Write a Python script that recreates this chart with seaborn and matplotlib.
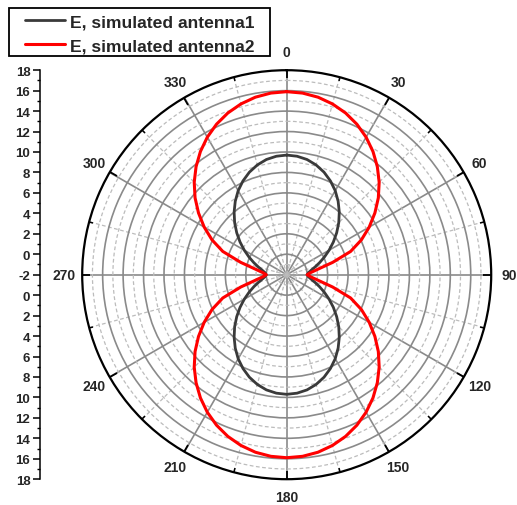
import numpy as np
import pandas as pd
import matplotlib
matplotlib.use("Agg")
import matplotlib.pyplot as plt
import matplotlib.patches as mpatches
from matplotlib.ticker import FixedLocator
import seaborn as sns

# ---------------- data ----------------
angle_deg = list(range(0, 365, 5))

antenna1 = [9.70, 9.63, 9.44, 9.11, 8.67, 8.12, 7.49, 6.77, 6.00, 5.20, 4.38, 3.57, 2.79, 2.06, 1.41, 0.85, 0.41, 0.12, 0.00,
            0.12, 0.41, 0.85, 1.41, 2.06, 2.79, 3.57, 4.38, 5.20, 6.00, 6.77, 7.49, 8.12, 8.67, 9.11, 9.44, 9.63, 9.70,
            9.63, 9.44, 9.11, 8.67, 8.12, 7.49, 6.77, 6.00, 5.20, 4.38, 3.57, 2.79, 2.06, 1.41, 0.85, 0.41, 0.12, 0.00,
            0.12, 0.41, 0.85, 1.41, 2.06, 2.79, 3.57, 4.38, 5.20, 6.00, 6.77, 7.49, 8.12, 8.67, 9.11, 9.44, 9.63, 9.70]

antenna2 = [15.90, 15.83, 15.63, 15.29, 14.83, 14.24, 13.53, 12.71, 11.79, 10.79, 9.70, 8.53, 7.32, 6.06, 4.65, 2.65, 1.10, 0.35, 0.00,
            0.35, 1.10, 2.65, 4.65, 6.06, 7.32, 8.53, 9.70, 10.79, 11.79, 12.71, 13.53, 14.24, 14.83, 15.29, 15.63, 15.83, 15.90,
            15.83, 15.63, 15.29, 14.83, 14.24, 13.53, 12.71, 11.79, 10.79, 9.70, 8.53, 7.32, 6.06, 4.65, 2.65, 1.10, 0.35, 0.00,
            0.35, 1.10, 2.65, 4.65, 6.06, 7.32, 8.53, 9.70, 10.79, 11.79, 12.71, 13.53, 14.24, 14.83, 15.29, 15.63, 15.83, 15.90]

series_names = ["E, simulated antenna1", "E, simulated antenna2"]
series_colors = ["#3a3a3a", "#ff0000"]

angle_ticks = [0, 30, 60, 90, 120, 150, 180, 210, 240, 270, 300, 330]
angle_tick_labels = ["0", "30", "60", "90", "120", "150", "180", "210", "240", "270", "300", "330"]
radial_major = [0, 2, 4, 6, 8, 10, 12, 14, 16]
radial_minor = [-1, 1, 3, 5, 7, 9, 11, 13, 15, 17]
r_min, r_max = -2, 18

# ---------------- style ----------------
sns.set_style("white")
plt.rcParams['font.family'] = ['Liberation Sans', 'DejaVu Sans']
plt.rcParams['font.weight'] = 'bold'

W, H = 517, 506
fig = plt.figure(figsize=(W / 100, H / 100), dpi=100)

cx, cy, rad = 286.7, 275.7, 204.5
ax = fig.add_axes([(cx - rad) / W, (H - (cy + rad)) / H, 2 * rad / W, 2 * rad / H], projection='polar')
ax.set_theta_zero_location('N')
ax.set_theta_direction(-1)

df = pd.DataFrame({
    "theta": np.deg2rad(angle_deg * 2),
    "r": antenna1 + antenna2,
    "series": [series_names[0]] * len(antenna1) + [series_names[1]] * len(antenna2),
})

lw_map = [2.0, 2.2]
for name, col, lw in zip(series_names, series_colors, lw_map):
    sub = df[df["series"] == name]
    sns.lineplot(data=sub, x="theta", y="r", ax=ax, color=col, lw=lw, sort=False,
                 estimator=None, label=name, zorder=5)

if ax.get_legend() is not None:
    ax.get_legend().remove()
ax.set_xlabel("")
ax.set_ylabel("")

ax.set_ylim(r_min, r_max)
ax.set_xticks(np.deg2rad(angle_ticks))
ax.set_xticklabels(angle_tick_labels, fontsize=10, fontweight='bold')
ax.xaxis.set_minor_locator(FixedLocator(np.deg2rad(np.array(angle_ticks) + 15)))
ax.set_yticks(radial_major)
ax.yaxis.set_minor_locator(FixedLocator(radial_minor))
ax.set_yticklabels([])
ax.tick_params(axis='y', which='both', length=0)

ax.grid(which='major', color='#8a8a8a', lw=1.2, ls='-')
ax.grid(which='minor', color='#bcbcbc', lw=0.9, ls=(0, (3, 2)))
ax.tick_params(axis='x', which='both', bottom=False, top=True)
ax.tick_params(axis='x', which='major', direction='in', length=5.5, width=1.3, color='black', pad=6)
ax.tick_params(axis='x', which='minor', direction='in', length=3, width=1.1, color='black')
ax.spines['polar'].set_linewidth(1.6)
ax.spines['polar'].set_color('black')
ax.set_facecolor('white')

# ---------------- left radial scale ----------------
lax = fig.add_axes([40 / W, (H - (cy + rad)) / H, 0.0001, 2 * rad / H])
lax.set_ylim(-(r_max - r_min), (r_max - r_min))
lt = list(range(-(r_max - r_min), (r_max - r_min) + 1, 2))
lax.set_yticks(lt)
lax.set_yticklabels([str(abs(v) + r_min) for v in lt], fontsize=9.5, fontweight='bold')
lax.yaxis.set_minor_locator(FixedLocator(list(range(-(r_max - r_min), (r_max - r_min) + 1, 1))))
lax.set_xticks([])
for s in ['right', 'top', 'bottom']:
    lax.spines[s].set_visible(False)
lax.spines['left'].set_linewidth(1.1)
lax.spines['left'].set_color('black')
lax.tick_params(axis='y', which='both', left=True, right=False)
lax.tick_params(axis='y', which='major', direction='out', length=5, width=1.1, color='black', pad=2)
lax.tick_params(axis='y', which='minor', direction='out', length=2.5, width=1.0, color='black')
lax.patch.set_visible(False)

# ---------------- legend ----------------
handles, labels = ax.get_legend_handles_labels()
leg = fig.legend(handles, labels, loc='upper left', bbox_to_anchor=(25 / W, 1 - 15 / H),
                 frameon=False, borderpad=0, borderaxespad=0, handlelength=2.29,
                 handletextpad=0.29, labelspacing=0.5,
                 prop={'size': 12.6, 'weight': 'bold'})
fig.patches.append(mpatches.Rectangle((9 / W, 1 - 57 / H), 261 / W, 48 / H, transform=fig.transFigure,
                                      fill=False, edgecolor='black', lw=1.3))

fig.savefig("out.png", dpi=100)
